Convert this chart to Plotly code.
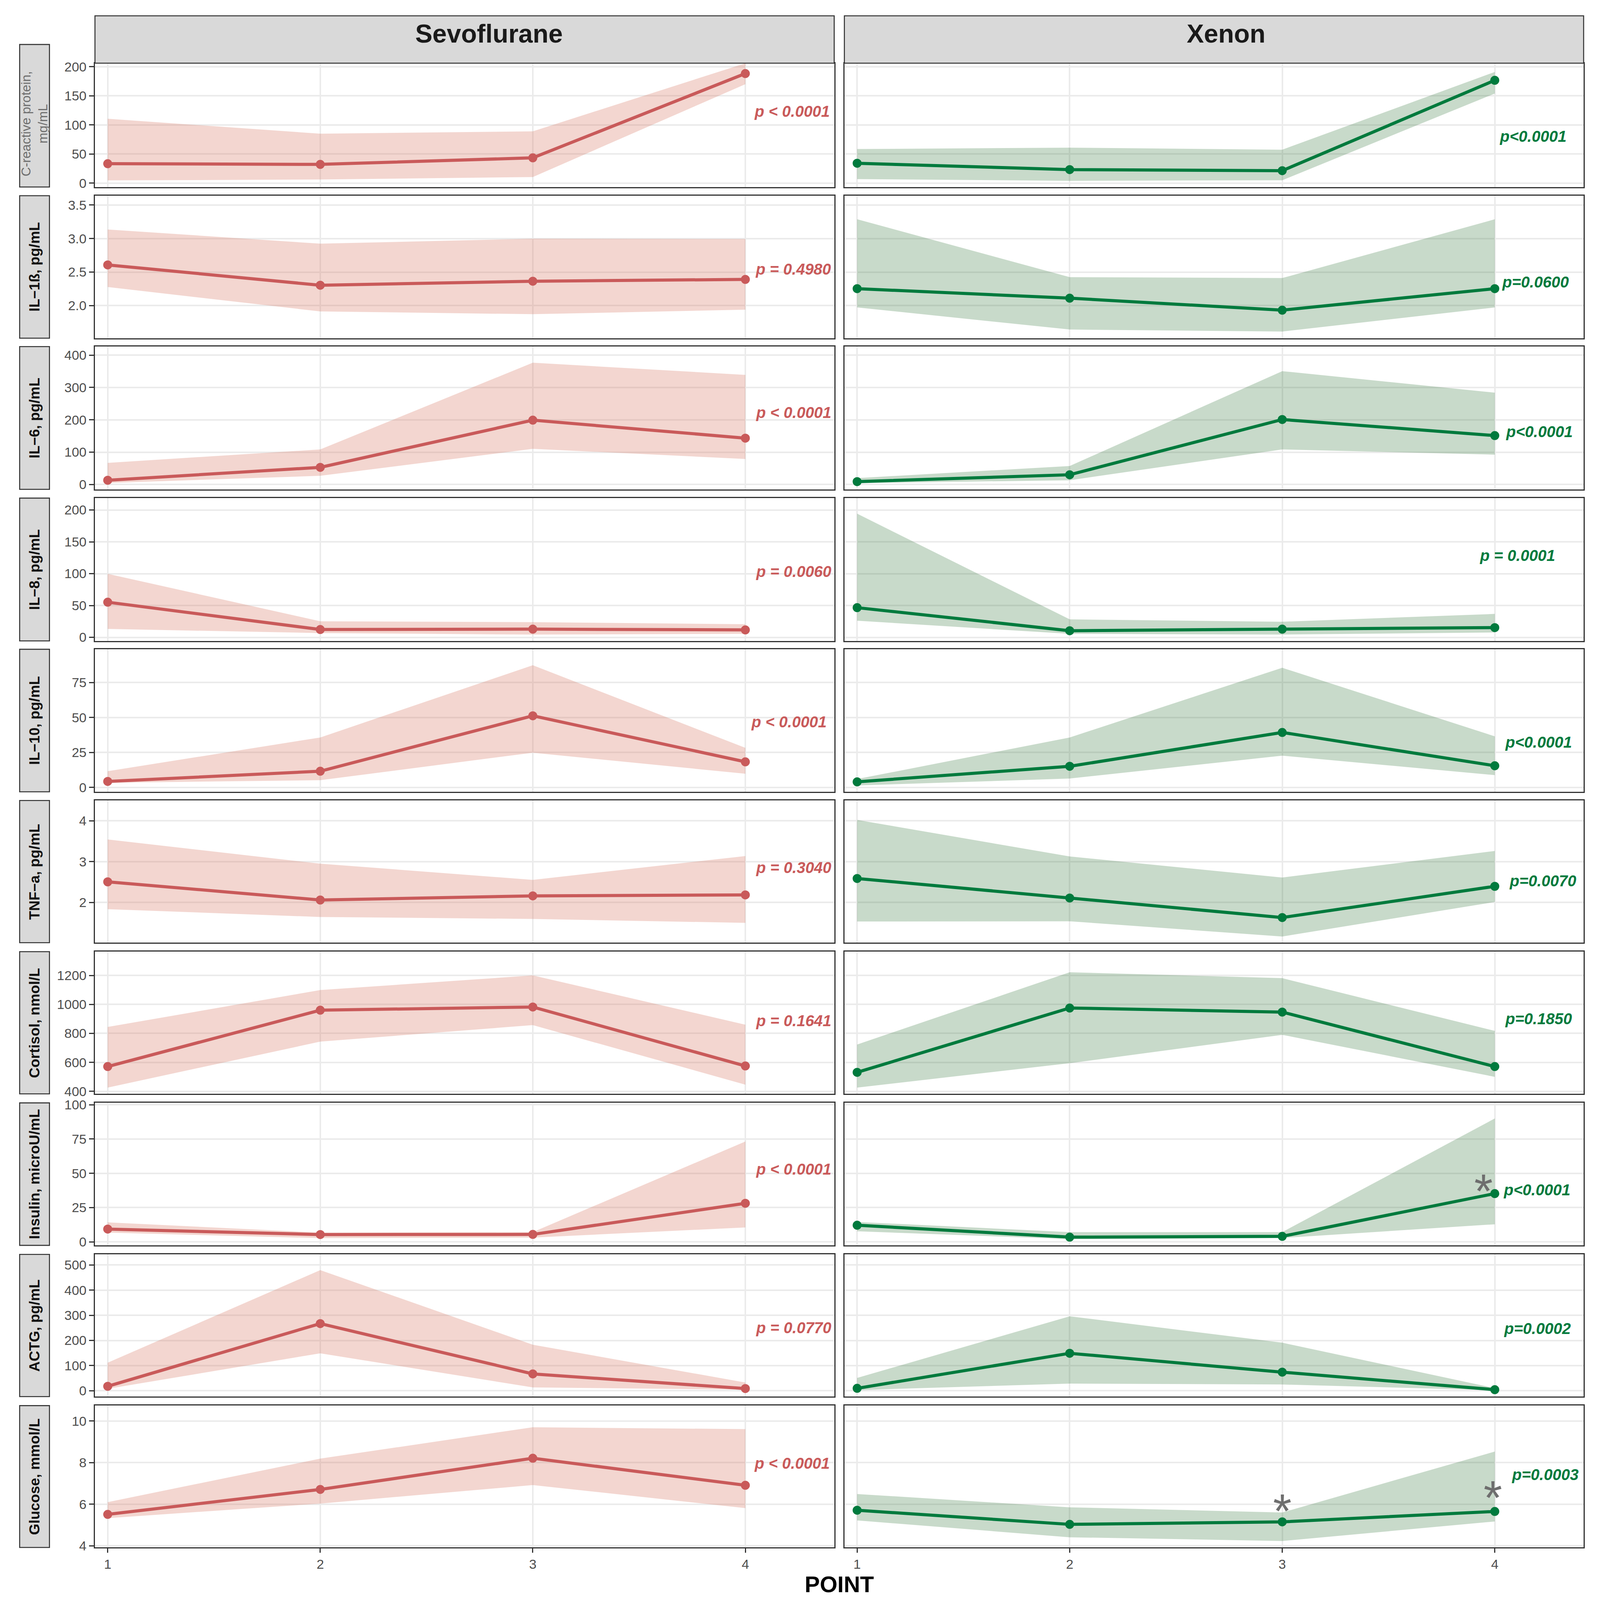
import plotly.graph_objects as go

# ---------------- data ----------------
points = [1, 2, 3, 4]
groups = ["Sevoflurane", "Xenon"]

crp_sevo_mean = [33.4, 32.2, 43.5, 188.3]
crp_sevo_lo = [4.7, 6.2, 10.5, 170.0]
crp_sevo_hi = [110.7, 85.0, 89.0, 206.0]
crp_xe_mean = [34.2, 23.3, 21.4, 176.7]
crp_xe_lo = [7.0, 3.9, 5.0, 154.0]
crp_xe_hi = [58.6, 61.0, 57.5, 191.0]

il1b_sevo_mean = [2.607, 2.304, 2.364, 2.391]
il1b_sevo_lo = [2.277, 1.913, 1.872, 1.939]
il1b_sevo_hi = [3.136, 2.924, 2.998, 2.994]
il1b_xe_mean = [2.253, 2.111, 1.932, 2.253]
il1b_xe_lo = [1.973, 1.643, 1.613, 1.973]
il1b_xe_hi = [3.288, 2.425, 2.411, 3.288]

il6_sevo_mean = [13.3, 53.1, 199.0, 143.4]
il6_sevo_lo = [4.8, 27.0, 110.4, 79.0]
il6_sevo_hi = [67.0, 108.6, 376.5, 339.0]
il6_xe_mean = [9.0, 30.2, 201.0, 151.4]
il6_xe_lo = [4.2, 13.3, 108.6, 92.3]
il6_xe_hi = [19.9, 57.3, 350.5, 284.0]

il8_sevo_mean = [55.2, 12.3, 12.9, 11.7]
il8_sevo_lo = [13.2, 6.7, 4.3, 5.5]
il8_sevo_hi = [99.7, 25.2, 23.9, 20.6]
il8_xe_mean = [46.6, 10.4, 12.9, 15.3]
il8_xe_lo = [26.1, 5.5, 4.3, 7.7]
il8_xe_hi = [194.2, 28.2, 24.5, 36.8]

il10_sevo_mean = [4.3, 11.6, 51.2, 18.3]
il10_sevo_lo = [3.3, 5.2, 24.8, 9.8]
il10_sevo_hi = [11.6, 35.7, 87.3, 28.3]
il10_xe_mean = [4.0, 15.1, 39.3, 15.5]
il10_xe_lo = [1.4, 6.4, 22.7, 8.8]
il10_xe_hi = [6.0, 35.7, 85.5, 36.5]

tnf_sevo_mean = [2.507, 2.062, 2.163, 2.187]
tnf_sevo_lo = [1.837, 1.646, 1.598, 1.502]
tnf_sevo_hi = [3.545, 2.952, 2.555, 3.139]
tnf_xe_mean = [2.589, 2.110, 1.632, 2.397]
tnf_xe_lo = [1.536, 1.541, 1.167, 2.014]
tnf_xe_hi = [4.024, 3.129, 2.612, 3.263]

cortisol_sevo_mean = [571, 960, 982, 575]
cortisol_sevo_lo = [426, 743, 857, 446]
cortisol_sevo_hi = [844, 1099, 1200, 860]
cortisol_xe_mean = [531, 975, 947, 571]
cortisol_xe_lo = [426, 594, 790, 500]
cortisol_xe_hi = [723, 1222, 1181, 817]

insulin_sevo_mean = [9.3, 5.3, 5.4, 28.1]
insulin_sevo_lo = [6.7, 2.7, 3.1, 10.5]
insulin_sevo_hi = [14.2, 6.7, 7.1, 73.2]
insulin_xe_mean = [12.1, 3.4, 4.0, 35.2]
insulin_xe_lo = [7.7, 2.0, 2.8, 12.8]
insulin_xe_hi = [14.5, 7.1, 7.1, 90.0]

actg_sevo_mean = [17.9, 267.0, 67.0, 8.9]
actg_sevo_lo = [8.0, 149.0, 13.4, 4.5]
actg_sevo_hi = [111.6, 479.5, 183.0, 33.0]
actg_xe_mean = [9.8, 149.0, 74.0, 4.5]
actg_xe_lo = [2.7, 28.6, 25.0, 2.0]
actg_xe_hi = [51.0, 296.0, 191.0, 10.7]

glucose_sevo_mean = [5.51, 6.71, 8.21, 6.91]
glucose_sevo_lo = [5.33, 6.03, 6.92, 5.81]
glucose_sevo_hi = [6.10, 8.19, 9.70, 9.61]
glucose_xe_mean = [5.71, 5.03, 5.15, 5.65]
glucose_xe_lo = [5.22, 4.41, 4.23, 5.17]
glucose_xe_hi = [6.49, 5.85, 5.60, 8.53]

row_labels = ["C-reactive protein,<br>mg/mL", "IL\u22121\u00df, pg/mL", "IL\u22126, pg/mL",
              "IL\u22128, pg/mL", "IL\u221210, pg/mL", "TNF\u2212a, pg/mL",
              "Cortisol, nmol/L", "Insulin, microU/mL", "ACTG, pg/mL", "Glucose, mmol/L"]

y_tickvals = [[0, 50, 100, 150, 200], [2.0, 2.5, 3.0, 3.5], [0, 100, 200, 300, 400],
              [0, 50, 100, 150, 200], [0, 25, 50, 75], [2, 3, 4],
              [400, 600, 800, 1000, 1200], [0, 25, 50, 75, 100],
              [0, 100, 200, 300, 400, 500], [4, 6, 8, 10]]
y_ticktext = [["0", "50", "100", "150", "200"], ["2.0", "2.5", "3.0", "3.5"],
              ["0", "100", "200", "300", "400"], ["0", "50", "100", "150", "200"],
              ["0", "25", "50", "75"], ["2", "3", "4"],
              ["400", "600", "800", "1000", "1200"], ["0", "25", "50", "75", "100"],
              ["0", "100", "200", "300", "400", "500"], ["4", "6", "8", "10"]]

p_sevo_text = ["p &lt; 0.0001", "p = 0.4980", "p &lt; 0.0001", "p = 0.0060", "p &lt; 0.0001",
               "p = 0.3040", "p = 0.1641", "p &lt; 0.0001", "p = 0.0770", "p &lt; 0.0001"]
p_sevo_x = [4.22, 4.225, 4.226, 4.226, 4.204, 4.226, 4.226, 4.226, 4.226, 4.22]
p_sevo_y = [123.5, 2.546, 223.2, 103.7, 46.8, 2.852, 887.5, 53.0, 250.0, 7.97]
p_xe_text = ["p&lt;0.0001", "p=0.0600", "p&lt;0.0001", "p = 0.0001", "p&lt;0.0001",
             "p=0.0070", "p=0.1850", "p&lt;0.0001", "p=0.0002", "p=0.0003"]
p_xe_x = [4.18, 4.19, 4.21, 4.106, 4.205, 4.225, 4.205, 4.198, 4.2, 4.236]
p_xe_y = [80.4, 2.351, 162.9, 128.8, 32.2, 2.531, 901.0, 38.0, 247.0, 7.43]

star_row = [7, 9, 9]
star_x = [3.947, 3.0, 3.99]
star_y = [46.3, 6.27, 6.92]

series = [
    [(crp_sevo_mean, crp_sevo_lo, crp_sevo_hi), (crp_xe_mean, crp_xe_lo, crp_xe_hi)],
    [(il1b_sevo_mean, il1b_sevo_lo, il1b_sevo_hi), (il1b_xe_mean, il1b_xe_lo, il1b_xe_hi)],
    [(il6_sevo_mean, il6_sevo_lo, il6_sevo_hi), (il6_xe_mean, il6_xe_lo, il6_xe_hi)],
    [(il8_sevo_mean, il8_sevo_lo, il8_sevo_hi), (il8_xe_mean, il8_xe_lo, il8_xe_hi)],
    [(il10_sevo_mean, il10_sevo_lo, il10_sevo_hi), (il10_xe_mean, il10_xe_lo, il10_xe_hi)],
    [(tnf_sevo_mean, tnf_sevo_lo, tnf_sevo_hi), (tnf_xe_mean, tnf_xe_lo, tnf_xe_hi)],
    [(cortisol_sevo_mean, cortisol_sevo_lo, cortisol_sevo_hi), (cortisol_xe_mean, cortisol_xe_lo, cortisol_xe_hi)],
    [(insulin_sevo_mean, insulin_sevo_lo, insulin_sevo_hi), (insulin_xe_mean, insulin_xe_lo, insulin_xe_hi)],
    [(actg_sevo_mean, actg_sevo_lo, actg_sevo_hi), (actg_xe_mean, actg_xe_lo, actg_xe_hi)],
    [(glucose_sevo_mean, glucose_sevo_lo, glucose_sevo_hi), (glucose_xe_mean, glucose_xe_lo, glucose_xe_hi)],
]

# ---------------- layout geometry (reference pixel frame) ----------------
REF_W, REF_H = 4398, 4963          # reference frame
FIG_W, FIG_H = 4096, 4096          # actual browser viewport

rows_px = [(196, 580), (607, 1049), (1075, 1518), (1545, 1988), (2014, 2456),
           (2483, 2924), (2952, 3393), (3421, 3863), (3891, 4332), (4360, 4800)]
cols_px = [(261, 2293), (2321, 4353)]
header_text_x = [1344, 3370]
y_ranges = [[-6.6, 206.1], [1.514, 3.64], [-15, 426.5], [-5.6, 218.7], [-3.1, 98.7],
            [1.017, 4.50], [382.5, 1363.8], [-2.6, 101.4], [-23, 541.9], [3.92, 10.74]]
x_range = [0.94, 4.418]

line_colors = ["#C95A5A", "#007A3D"]
fill_colors = ["rgba(214,120,100,0.30)", "rgba(50,120,60,0.27)"]
FONT = "Liberation Sans, Arial, Helvetica, sans-serif"
TICK_FONT = dict(size=34, color="#4D4D4D", family=FONT)


def fx(v):
    return v / REF_W


def fy(v):
    return 1 - v / REF_H


fig = go.Figure()
layout = dict(width=FIG_W, height=FIG_H, autosize=False, template="none",
              margin=dict(l=0, r=0, t=0, b=0, pad=0, autoexpand=False),
              paper_bgcolor="white", plot_bgcolor="white", showlegend=False,
              font=dict(family=FONT))
annotations = []
shapes = []

for r in range(10):
    for c in range(2):
        k = r * 2 + c + 1
        sfx = "" if k == 1 else str(k)
        xr, yr = "x" + sfx, "y" + sfx
        mean, lo, hi = series[r][c]
        fig.add_trace(go.Scatter(x=points + points[::-1], y=hi + lo[::-1], fill="toself",
                                 fillcolor=fill_colors[c], line=dict(width=0), mode="lines",
                                 hoverinfo="skip", xaxis=xr, yaxis=yr))
        fig.add_trace(go.Scatter(x=points, y=mean, mode="lines+markers",
                                 line=dict(color=line_colors[c], width=8),
                                 marker=dict(size=23, color=line_colors[c], line=dict(width=0)),
                                 xaxis=xr, yaxis=yr))
        bottom = (r == 9)
        x0, x1 = cols_px[c]
        y0, y1 = rows_px[r]
        layout["xaxis" + sfx] = dict(
            domain=[fx(x0), fx(x1)], range=x_range, anchor=yr, automargin=False,
            tickmode="array", tickvals=points, ticktext=[str(p) for p in points],
            showgrid=True, gridcolor="#EBEBEB", gridwidth=4, zeroline=False,
            showline=True, mirror=True, linecolor="#333333", linewidth=2.6,
            ticks="outside" if bottom else "", ticklen=11, tickwidth=3, tickcolor="#333333",
            showticklabels=bottom, tickfont=TICK_FONT)
        layout["yaxis" + sfx] = dict(
            domain=[fy(y1), fy(y0)], range=y_ranges[r], anchor=xr, automargin=False,
            tickmode="array", tickvals=y_tickvals[r], ticktext=y_ticktext[r],
            showgrid=True, gridcolor="#EBEBEB", gridwidth=4, zeroline=False,
            showline=True, mirror=True, linecolor="#333333", linewidth=2.6,
            ticks="outside" if c == 0 else "", ticklen=12, tickwidth=3, tickcolor="#333333",
            showticklabels=(c == 0), tickfont=TICK_FONT)

        if c == 0:
            txt, px_, py_ = p_sevo_text[r], p_sevo_x[r], p_sevo_y[r]
        else:
            txt, px_, py_ = p_xe_text[r], p_xe_x[r], p_xe_y[r]
        annotations.append(dict(x=px_, y=py_, xref=xr, yref=yr, text=txt, showarrow=False,
                                xanchor="center", yanchor="middle",
                                font=dict(size=40, color=line_colors[c], family=FONT,
                                          weight="bold", style="italic")))

    # left strip box + label
    top = 138 if r == 0 else rows_px[r][0]
    shapes.append(dict(type="rect", xref="paper", yref="paper",
                       x0=fx(54), x1=fx(136), y0=fy(rows_px[r][1]), y1=fy(top),
                       fillcolor="#D9D9D9", line=dict(color="#333333", width=2.6), layer="above"))
    if r == 0:
        annotations.append(dict(x=fx(95), y=fy(383), xref="paper", yref="paper",
                                text=row_labels[r], showarrow=False, textangle=-90,
                                xanchor="center", yanchor="middle",
                                font=dict(size=33, color="#6E6E6E", family=FONT)))
    else:
        annotations.append(dict(x=fx(95), y=fy((rows_px[r][0] + rows_px[r][1]) / 2),
                                xref="paper", yref="paper",
                                text=row_labels[r], showarrow=False, textangle=-90,
                                xanchor="center", yanchor="middle",
                                font=dict(size=37, color="#111111", family=FONT, weight="bold")))

# significance asterisks (Xenon column)
for rr, sx, sy in zip(star_row, star_x, star_y):
    k = rr * 2 + 2
    annotations.append(dict(x=sx, y=sy, xref="x" + str(k), yref="y" + str(k), text="*",
                            showarrow=False, xanchor="center", yanchor="middle", yshift=-32,
                            font=dict(size=122, color="#6E6E6E", family=FONT)))

# top strips
for c in range(2):
    x0, x1 = cols_px[c]
    shapes.append(dict(type="rect", xref="paper", yref="paper",
                       x0=fx(x0), x1=fx(x1), y0=fy(196), y1=fy(49),
                       fillcolor="#D9D9D9", line=dict(color="#333333", width=2.6), layer="above"))
    annotations.append(dict(x=fx(header_text_x[c]), y=fy(104), xref="paper", yref="paper",
                            text=groups[c], showarrow=False, xanchor="center", yanchor="middle",
                            font=dict(size=66, color="#1A1A1A", family=FONT, weight="bold")))

# x-axis title
annotations.append(dict(x=fx((261 + 4353) / 2), y=fy(4914), xref="paper", yref="paper",
                        text="POINT", showarrow=False, xanchor="center", yanchor="middle",
                        font=dict(size=58, color="#000000", family=FONT, weight="bold")))

layout["annotations"] = annotations
layout["shapes"] = shapes
fig.update_layout(**layout)

fig.write_html("out.html", config={"displayModeBar": False},
               post_script="document.body.style.margin='0';document.body.style.overflow='hidden';")
